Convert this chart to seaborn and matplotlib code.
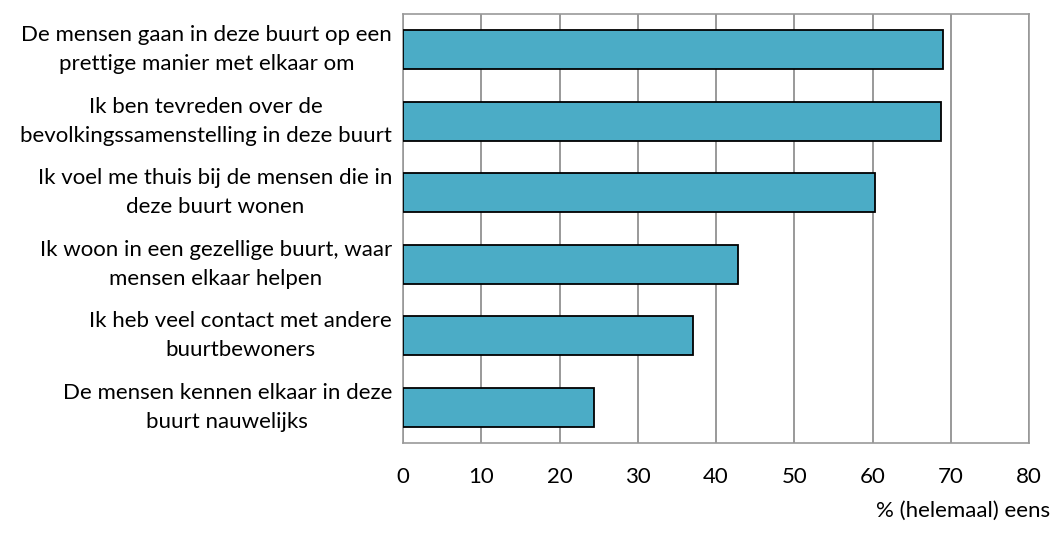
import numpy as np
import pandas as pd
import matplotlib.pyplot as plt
import seaborn as sns

STATEMENTS = [
    "De mensen gaan in deze buurt op een\nprettige manier met elkaar om",
    "Ik ben tevreden over de\nbevolkingssamenstelling in deze buurt",
    "Ik voel me thuis bij de mensen die in\ndeze buurt wonen",
    "Ik woon in een gezellige buurt, waar\nmensen elkaar helpen",
    "Ik heb veel contact met andere\nbuurtbewoners",
    "De mensen kennen elkaar in deze\nbuurt nauwelijks",
]
PCT_AGREE = [69.0, 68.8, 60.3, 42.8, 37.1, 24.4]
X_TICKS = [0, 10, 20, 30, 40, 50, 60, 70, 80]
X_LABEL = "% (helemaal) eens"

df = pd.DataFrame({"stelling": STATEMENTS, "pct": PCT_AGREE})

sns.set_style("white")
plt.rcParams['font.family'] = ['Lato', 'DejaVu Sans']
plt.rcParams['text.color'] = 'black'
plt.rcParams['xtick.color'] = 'black'
plt.rcParams['ytick.color'] = 'black'

FS = 16

fig = plt.figure(figsize=(10.56, 5.46), dpi=100)
ax = fig.add_axes([403 / 1056, 1 - 443 / 546, 626 / 1056, 429 / 546])

sns.barplot(data=df, x="pct", y="stelling", color="#4BACC6", saturation=1,
            edgecolor="black", linewidth=1.3, width=0.55, ax=ax, zorder=3)

ax.set_xlim(0, 80)
ax.set_xticks(X_TICKS)
ax.set_xticklabels([str(t) for t in X_TICKS], fontsize=FS)
ax.set_yticks(range(len(STATEMENTS)))
ax.set_yticklabels(STATEMENTS, fontsize=FS, linespacing=1.55,
                   multialignment="center", va="center")
ax.grid(axis="x", color="#888888", linewidth=1.2, zorder=0)
ax.set_axisbelow(True)
for s in ax.spines.values():
    s.set_color("#999999")
    s.set_linewidth(1.2)

ax.tick_params(axis="x", length=0, pad=17)
ax.tick_params(axis="y", length=0, pad=8)

ax.set_ylabel("")
ax.set_xlabel("")
fig.text(1050 / 1056, 1 - 511 / 546, X_LABEL, ha="right", va="center", fontsize=FS)

fig.savefig("out.png", dpi=100, facecolor="white")
